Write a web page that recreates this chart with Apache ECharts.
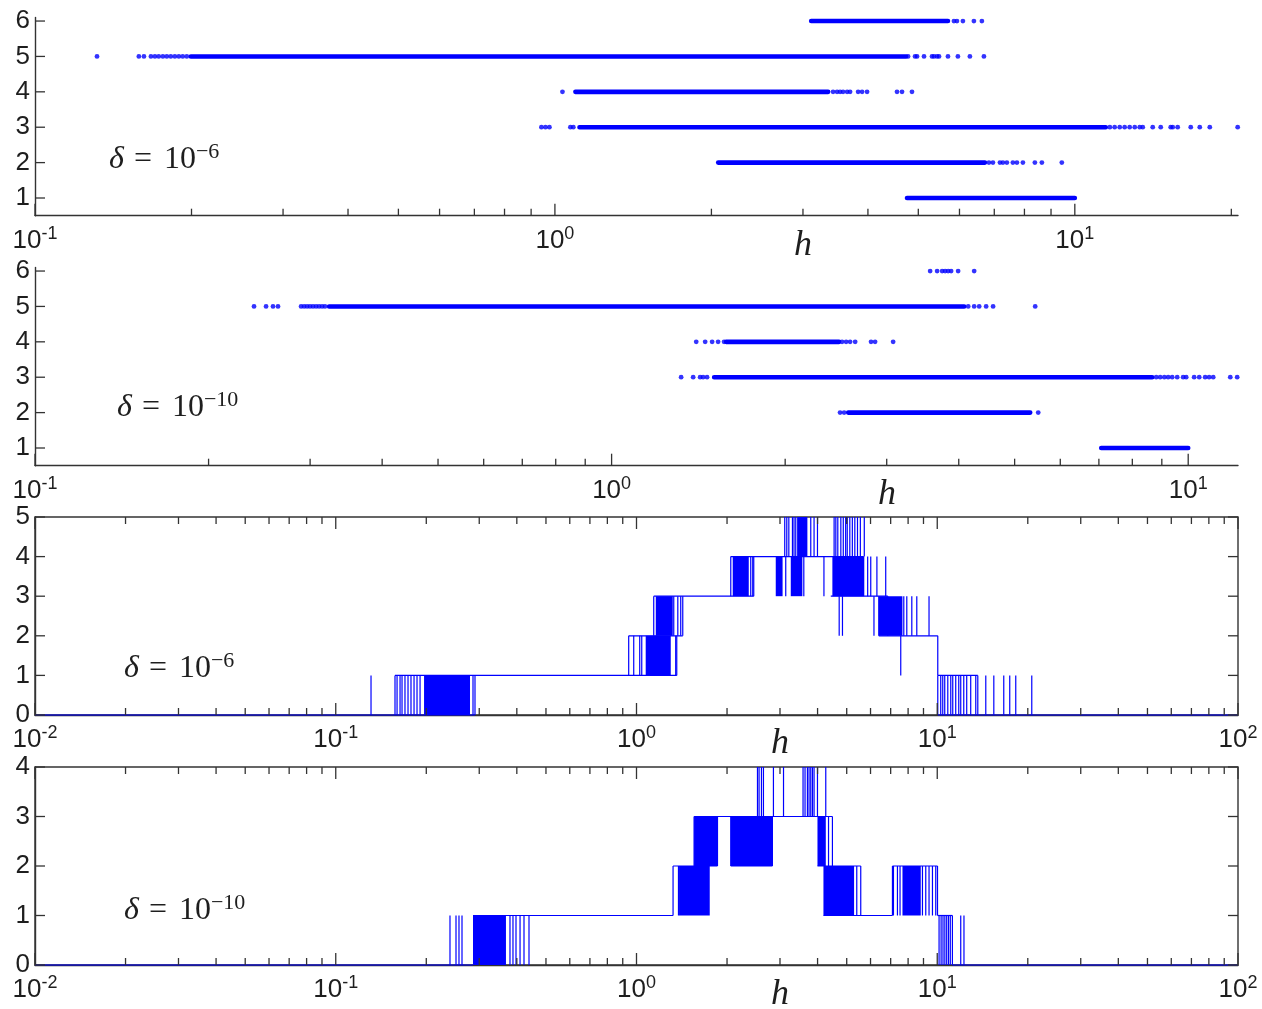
<!DOCTYPE html>
<html>
<head>
<meta charset="utf-8">
<script src="https://cdn.jsdelivr.net/npm/echarts@6/dist/echarts.min.js"></script>
<style>
  html, body { margin: 0; padding: 0; background: #ffffff; }
  #chart { width: 1262px; height: 1009px; }
</style>
</head>
<body>
<div id="chart"></div>
<script>
// ---------------------------------------------------------------
// Panel 1 (delta = 1e-6): index found for each step size h (dots)
// dense stretches: [hStart, hEnd, index]
const p1Runs = [
  [3.111, 5.702, 6],
  [0.1994, 4.735, 5],
  [1.095, 3.354, 4],
  [1.115, 11.47, 3],
  [2.061, 6.716, 2],
  [4.756, 10.0, 1]
];
// isolated dots per index
const p1Dots6 = [5.855, 5.933, 6.092, 6.396, 6.626];
const p1Dots5 = [0.1316, 0.1584, 0.1620, 0.1671, 0.1701, 0.1730, 0.1762, 0.1793, 0.1825, 0.1858,
                 0.1891, 0.1924, 0.1959, 4.778, 4.928, 4.972, 5.128, 5.313, 5.360, 5.432, 5.480,
                 5.702, 5.958, 6.283, 6.686];
const p1Dots4 = [1.034, 3.428, 3.489, 3.536, 3.583, 3.648, 3.696, 3.830, 3.898, 3.985, 4.550, 4.652, 4.862];
const p1Dots3 = [0.942, 0.959, 0.976, 1.071, 1.085, 11.68, 11.93, 12.20, 12.47, 12.75, 13.04, 13.33,
                 13.51, 14.12, 14.63, 15.29, 15.43, 15.77, 16.71, 17.39, 18.18, 20.57];
const p1Dots2 = [6.836, 6.958, 7.178, 7.274, 7.402, 7.601, 7.738, 7.946, 8.379, 8.643, 9.441];

// Panel 2 (delta = 1e-10)
const p2Runs = [
  [0.3236, 4.088, 5],
  [1.580, 2.480, 4],
  [1.506, 8.662, 3],
  [2.572, 5.321, 2],
  [7.066, 10.0, 1]
];
const p2Dots6 = [3.568, 3.669, 3.743, 3.788, 3.834, 3.880, 3.990, 4.254];
const p2Dots5 = [0.2398, 0.2516, 0.2587, 0.2639, 0.2894, 0.2929, 0.2964, 0.2999, 0.3035, 0.3072,
                 0.3109, 0.3147, 0.3184, 4.154, 4.254, 4.340, 4.462, 4.588, 5.428];
const p2Dots4 = [1.402, 1.453, 1.494, 1.530, 1.567, 2.510, 2.551, 2.592, 2.645, 2.818, 2.864, 3.078];
const p2Dots3 = [1.320, 1.385, 1.424, 1.441, 1.464, 8.80, 8.94, 9.09, 9.23, 9.38, 9.57, 9.80, 9.92,
                 10.24, 10.45, 10.70, 10.87, 11.05, 11.83, 12.16];
const p2Dots2 = [2.490, 2.531, 5.494];

// Panel 3 (delta = 1e-6): step signal vs h
// flat stretches [hStart, hEnd, level]
const p3Flats = [
  [0.01, 0.2904, 0], [10.04, 100, 0],
  [0.1574, 1.361, 1], [10.04, 13.64, 1],
  [0.942, 1.425, 2], [6.392, 10.04, 2],
  [1.141, 2.454, 3], [4.426, 6.848, 3],
  [2.058, 5.696, 4]
];
// densely oscillating stretches [hStart, hEnd, low, high]
const p3Bands = [
  [0.1966, 0.2795, 0, 1],
  [1.073, 1.300, 1, 2],
  [1.159, 1.320, 2, 3],
  [2.089, 2.362, 3, 4],
  [2.904, 3.06, 3, 4],
  [3.258, 3.56, 3, 4],
  [3.42, 3.70, 4, 5],
  [4.48, 5.72, 3, 4],
  [6.39, 7.66, 2, 3]
];
// single jumps between neighbouring levels
const p3Jumps01 = [0.1310, 0.1574, 0.1599, 0.1636, 0.1661, 0.1699, 0.1739, 0.1779, 0.1821, 0.1863,
                   0.1907, 0.2860, 0.2904,
                   10.04, 10.27, 10.43, 10.59, 10.84, 11.09, 11.26, 11.52, 11.79, 11.97, 12.25,
                   12.53, 12.92, 13.43, 13.64, 14.50, 15.42, 16.64, 17.42, 18.24, 20.62];
const p3Jumps12 = [0.942, 0.979, 1.025, 1.041, 1.350, 1.361, 7.562, 10.04];
const p3Jumps23 = [1.141, 1.330, 1.372, 1.403, 1.425, 4.72, 4.84, 6.16, 6.392, 6.848, 7.74, 7.92,
                   8.23, 8.55, 9.39];
const p3Jumps34 = [2.058, 2.398, 2.435, 2.454, 3.135, 3.60, 4.20, 5.87, 6.01, 6.30, 6.74];
const p3Jumps45 = [3.111, 3.16, 3.21, 3.30, 3.34, 3.385, 3.797, 3.894, 3.997, 4.54, 4.60, 4.67,
                   4.78, 4.87, 4.96, 5.02, 5.12, 5.22, 5.32, 5.43, 5.55, 5.72];

// Panel 4 (delta = 1e-10)
const p4Flats = [
  [0.01, 0.2860, 0], [11.23, 100, 0],
  [0.2860, 1.323, 1], [4.184, 7.096, 1], [10.02, 11.23, 1],
  [1.323, 1.859, 2], [2.058, 2.831, 2], [3.997, 5.567, 2], [7.096, 10.02, 2],
  [1.554, 4.482, 3]
];
const p4Bands = [
  [0.2860, 0.3681, 0, 1],
  [1.385, 1.752, 1, 2],
  [1.554, 1.859, 2, 3],
  [2.058, 2.831, 2, 3],
  [3.997, 4.26, 2, 3],
  [4.184, 5.29, 1, 2],
  [7.662, 8.813, 1, 2]
];
const p4Jumps01 = [0.2398, 0.2511, 0.2569, 0.2629, 0.3796, 0.3884, 0.3975, 0.4100, 0.4226, 0.4391,
                   10.14, 10.30, 10.45, 10.60, 10.75, 10.90, 11.05, 11.23, 11.97, 12.27];
const p4Jumps12 = [1.323, 1.379, 5.40, 5.567, 7.096, 7.151, 7.373, 7.521, 8.929, 9.158, 9.391,
                   9.640, 9.886, 10.02];
const p4Jumps23 = [1.554, 1.859, 2.058, 2.831, 4.35, 4.482];
const p4Jumps34 = [2.525, 2.556, 2.603, 2.643, 2.853, 3.082, 3.579, 3.634, 3.701, 3.747, 3.797,
                   3.846, 3.894, 3.997, 4.259];

// axis ranges and ticks
const xRanges = [[0.1, 20.6], [0.1, 12.2], [0.01, 100], [0.01, 100]];
const yRanges = [[0.5, 6.1], [0.5, 6.1], [0, 5], [0, 4]];
const yTicks = [[1, 2, 3, 4, 5, 6], [1, 2, 3, 4, 5, 6], [0, 1, 2, 3, 4, 5], [0, 1, 2, 3, 4]];
const deltaLabels = ['−6', '−10', '−6', '−10'];
// ---------------------------------------------------------------

const BLUE = '#0000ff';
const AXIS = '#333333';
const TXT = '#1e1e1e';
const SANS = '"Liberation Sans", Arial, Helvetica, sans-serif';
const SERIF = '"Liberation Serif", "DejaVu Serif", serif';

// decade ticks inside an x range
function decadeTicks(range) {
  const majors = [], minors = [];
  const k0 = Math.floor(Math.log10(range[0]) + 1e-9), k1 = Math.ceil(Math.log10(range[1]) - 1e-9);
  for (let k = k0; k <= k1; k++) {
    const p = Math.pow(10, k);
    if (p >= range[0] * 0.9999 && p <= range[1] * 1.0001) majors.push(p);
    for (let m = 2; m <= 9; m++) {
      const v = m * p;
      if (v > range[0] && v < range[1]) minors.push(v);
    }
  }
  return { majors, minors };
}

function powLabel(v) {
  const e = Math.log10(v), r = Math.round(e);
  if (Math.abs(e - r) > 1e-6) return '';
  return '{b|10}{s|' + r + '}';
}

const grids = [
  { left: 35, top: 17.5, width: 1203, height: 198.2 },
  { left: 35, top: 267.5, width: 1203, height: 198.2 },
  { left: 35, top: 517, width: 1203, height: 198, show: true, borderColor: AXIS, borderWidth: 1.4 },
  { left: 35, top: 767, width: 1203, height: 198, show: true, borderColor: AXIS, borderWidth: 1.4 }
].map(g => Object.assign({ outerBoundsMode: 'none', containLabel: false }, g));

const xAxes = xRanges.map((r, i) => ({
  type: 'log', logBase: 10, gridIndex: i, min: r[0], max: r[1],
  axisLine: { show: true, lineStyle: { color: AXIS, width: 1.4 } },
  axisTick: { show: false }, minorTick: { show: false }, splitLine: { show: false },
  axisLabel: {
    margin: 9, color: TXT, formatter: powLabel,
    rich: {
      b: { fontSize: 26, fontFamily: SANS, color: TXT, lineHeight: 32 },
      s: { fontSize: 18, fontFamily: SANS, color: TXT, lineHeight: 18, verticalAlign: 'top' }
    }
  }
}));

const yAxes = yRanges.map((r, i) => Object.assign({
  type: 'value', gridIndex: i, min: r[0], max: r[1],
  axisLine: { show: true, lineStyle: { color: AXIS, width: 1.4 } },
  axisTick: { show: false }, splitLine: { show: false },
  axisLabel: {
    margin: 5, color: TXT, fontSize: 26, fontFamily: SANS,
    formatter: v => (Math.abs(v - Math.round(v)) < 1e-9 ? String(Math.round(v)) : '')
  }
}, i >= 2 ? { interval: 1 } : {}));

const series = [];

// tick marks (inside pointing), drawn on the axes' own scales
function addTicks(i, boxed) {
  const xr = xRanges[i], yr = yRanges[i];
  const t = decadeTicks(xr);
  const xData = t.majors.map(v => [v, 1]).concat(t.minors.map(v => [v, 0]));
  series.push({
    type: 'custom', xAxisIndex: i, yAxisIndex: i, z: 6, silent: true, clip: false,
    encode: { x: 0 }, data: xData,
    renderItem(params, api) {
      const h = api.value(0), len = api.value(1) ? 12 : 7;
      const b = api.coord([h, yr[0]]);
      const kids = [{ type: 'line', shape: { x1: b[0], y1: b[1], x2: b[0], y2: b[1] - len },
                      style: { stroke: AXIS, lineWidth: 1.3 } }];
      if (boxed) {
        const tp = api.coord([h, yr[1]]);
        kids.push({ type: 'line', shape: { x1: tp[0], y1: tp[1], x2: tp[0], y2: tp[1] + len },
                    style: { stroke: AXIS, lineWidth: 1.3 } });
      }
      return { type: 'group', children: kids };
    }
  });
  series.push({
    type: 'custom', xAxisIndex: i, yAxisIndex: i, z: 6, silent: true, clip: false,
    encode: { x: 0, y: 1 }, data: yTicks[i].map(v => [xr[0], v]),
    renderItem(params, api) {
      const v = api.value(1);
      const a = api.coord([xr[0], v]);
      const kids = [{ type: 'line', shape: { x1: a[0], y1: a[1], x2: a[0] + 10, y2: a[1] },
                      style: { stroke: AXIS, lineWidth: 1.3 } }];
      if (boxed) {
        const c = api.coord([xr[1], v]);
        kids.push({ type: 'line', shape: { x1: c[0], y1: c[1], x2: c[0] - 10, y2: c[1] },
                    style: { stroke: AXIS, lineWidth: 1.3 } });
      }
      return { type: 'group', children: kids };
    }
  });
}

// dot panels
function addDotPanel(i, runs, dotLists) {
  series.push({
    type: 'custom', xAxisIndex: i, yAxisIndex: i, z: 3, silent: true, clip: false,
    encode: { x: [0, 1], y: 2 }, data: runs,
    renderItem(params, api) {
      const a = api.coord([api.value(0), api.value(2)]);
      const b = api.coord([api.value(1), api.value(2)]);
      return { type: 'rect', shape: { x: a[0] - 2.3, y: a[1] - 2.3, width: b[0] - a[0] + 4.6, height: 4.6, r: 2.3 },
               style: { fill: BLUE } };
    }
  });
  const pts = [];
  dotLists.forEach(([lvl, arr]) => arr.forEach(h => pts.push([h, lvl])));
  series.push({
    type: 'scatter', xAxisIndex: i, yAxisIndex: i, z: 3, silent: true,
    symbol: 'circle', symbolSize: 4.8, itemStyle: { color: BLUE }, data: pts
  });
}

// step-signal panels
function addStepPanel(i, flats, bands, jumpLists) {
  series.push({
    type: 'custom', xAxisIndex: i, yAxisIndex: i, z: 3, silent: true, clip: false,
    encode: { x: [0, 1], y: [2, 3] }, data: bands,
    renderItem(params, api) {
      const a = api.coord([api.value(0), api.value(3)]);
      const b = api.coord([api.value(1), api.value(2)]);
      return { type: 'rect', shape: { x: a[0], y: a[1], width: b[0] - a[0], height: b[1] - a[1] },
               style: { fill: BLUE } };
    }
  });
  series.push({
    type: 'custom', xAxisIndex: i, yAxisIndex: i, z: 3, silent: true, clip: false,
    encode: { x: [0, 1], y: 2 }, data: flats,
    renderItem(params, api) {
      const a = api.coord([api.value(0), api.value(2)]);
      const b = api.coord([api.value(1), api.value(2)]);
      return { type: 'line', shape: { x1: a[0], y1: a[1], x2: b[0], y2: b[1] },
               style: { stroke: BLUE, lineWidth: 1.2 } };
    }
  });
  const jumps = [];
  jumpLists.forEach(([lo, arr]) => arr.forEach(h => jumps.push([h, lo, lo + 1])));
  series.push({
    type: 'custom', xAxisIndex: i, yAxisIndex: i, z: 3, silent: true, clip: false,
    encode: { x: 0, y: [1, 2] }, data: jumps,
    renderItem(params, api) {
      const a = api.coord([api.value(0), api.value(1)]);
      const b = api.coord([api.value(0), api.value(2)]);
      return { type: 'line', shape: { x1: a[0], y1: a[1], x2: b[0], y2: b[1] },
               style: { stroke: BLUE, lineWidth: 1.2 } };
    }
  });
}

addDotPanel(0, p1Runs, [[6, p1Dots6], [5, p1Dots5], [4, p1Dots4], [3, p1Dots3], [2, p1Dots2]]);
addDotPanel(1, p2Runs, [[6, p2Dots6], [5, p2Dots5], [4, p2Dots4], [3, p2Dots3], [2, p2Dots2]]);
addStepPanel(2, p3Flats, p3Bands, [[0, p3Jumps01], [1, p3Jumps12], [2, p3Jumps23], [3, p3Jumps34], [4, p3Jumps45]]);
addStepPanel(3, p4Flats, p4Bands, [[0, p4Jumps01], [1, p4Jumps12], [2, p4Jumps23], [3, p4Jumps34]]);
[0, 1, 2, 3].forEach(i => addTicks(i, i >= 2));

// delta annotations and h axis titles
const deltaPos = [[109, 160], [117, 408], [124, 669], [124, 911]];
const hPos = [[803, 246], [887, 495], [780, 744], [780, 995]];
const graphic = [];
deltaPos.forEach(([x, y], i) => graphic.push({
  type: 'text', x, y, silent: true, z: 10,
  style: {
    text: '{d|δ}{e|=}{t|10}{s|' + deltaLabels[i] + '}',
    verticalAlign: 'middle', align: 'left',
    rich: {
      d: { fontSize: 32, fontFamily: SERIF, fontStyle: 'italic', fill: TXT, lineHeight: 38 },
      e: { fontSize: 32, fontFamily: SERIF, fill: TXT, lineHeight: 38, padding: [0, 12, 0, 10] },
      t: { fontSize: 32, fontFamily: SERIF, fill: TXT, lineHeight: 38 },
      s: { fontSize: 22, fontFamily: SERIF, fill: TXT, lineHeight: 22, verticalAlign: 'top' }
    }
  }
}));
hPos.forEach(([x, y]) => graphic.push({
  type: 'text', x, y, silent: true, z: 10,
  style: { text: 'h', fontSize: 36, fontFamily: SERIF, fontStyle: 'italic', fill: TXT,
           align: 'center', verticalAlign: 'middle' }
}));

const chart = echarts.init(document.getElementById('chart'), null, { renderer: 'canvas' });
chart.setOption({
  animation: false,
  backgroundColor: '#ffffff',
  grid: grids,
  xAxis: xAxes,
  yAxis: yAxes,
  series,
  graphic
});
</script>
</body>
</html>
